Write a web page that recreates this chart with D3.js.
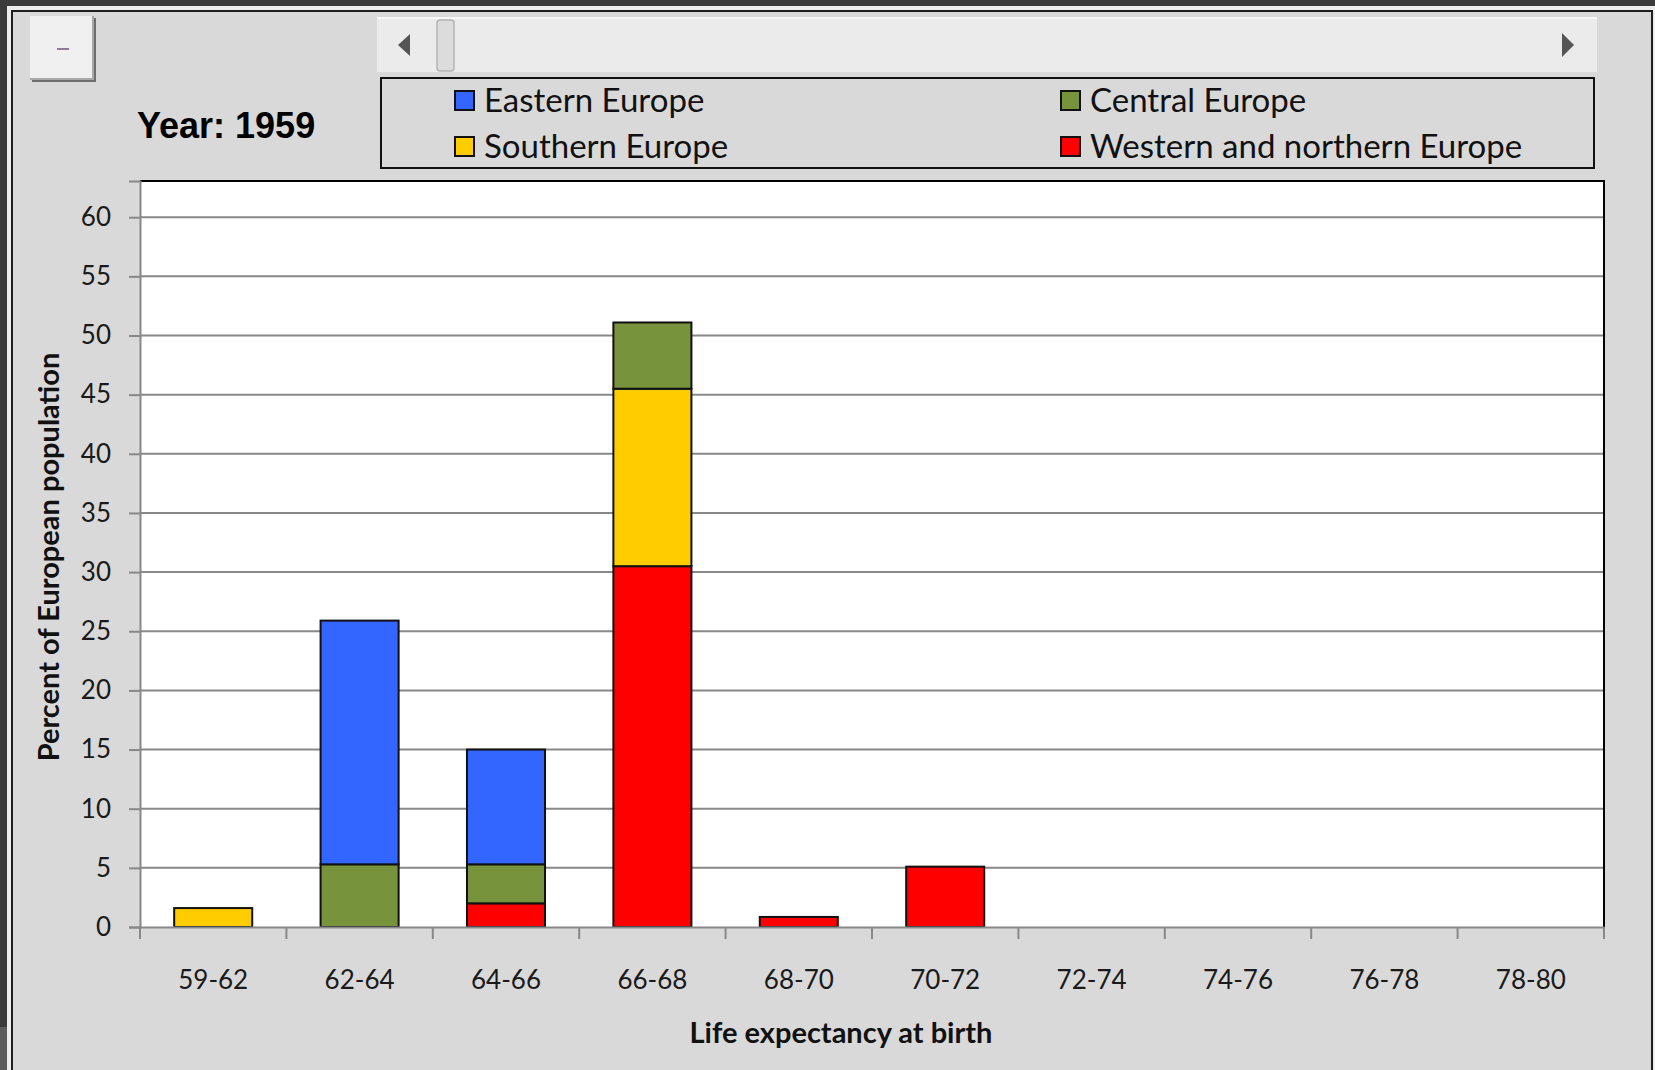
<html>
  <head>
    <script src="https://cdn.jsdelivr.net/npm/d3@7"></script>
    <style>
      body { margin: 0; background-color: #3a3a3a; }
      svg { display: block; }
    </style>
  </head>
  <body>
    <script>
      const categories = ["59-62", "62-64", "64-66", "66-68", "68-70", "70-72", "72-74", "74-76", "76-78", "78-80"];
      const seriesNames = ["Western and northern Europe", "Southern Europe", "Central Europe", "Eastern Europe"];
      const western  = [0,   0,    2.0, 30.5, 0.85, 5.1, 0, 0, 0, 0];
      const southern = [1.6, 0,    0,   15.0, 0,    0,   0, 0, 0, 0];
      const central  = [0,   5.3,  3.3, 5.6,  0,    0,   0, 0, 0, 0];
      const eastern  = [0,   20.6, 9.7, 0,    0,    0,   0, 0, 0, 0];
      const yTicks = [0, 5, 10, 15, 20, 25, 30, 35, 40, 45, 50, 55, 60];
      const yearLabel = "Year: 1959";
      const colors = {
        "Western and northern Europe": "#ff0000",
        "Southern Europe": "#ffcc00",
        "Central Europe": "#77933c",
        "Eastern Europe": "#3366ff"
      };
      // legend layout order (two columns, two rows)
      const legendOrder = ["Eastern Europe", "Southern Europe", "Central Europe", "Western and northern Europe"];

      const W = 1655, H = 1070;
      const plot = { left: 140, right: 1604, top: 181, bottom: 927 };

      const svg = d3.select("body").append("svg")
          .attr("width", W)
          .attr("height", H);

      // window frame
      svg.append("rect").attr("width", W).attr("height", H).attr("fill", "#3a3a3a");
      svg.append("rect").attr("x", 0).attr("y", 1027).attr("width", 7).attr("height", 43).attr("fill", "#5c5c5c");
      svg.append("rect").attr("x", 7).attr("y", 6).attr("width", W - 7).attr("height", H - 6).attr("fill", "#ededed");
      svg.append("rect")
          .attr("x", 12).attr("y", 11)
          .attr("width", 1640).attr("height", H)
          .attr("fill", "#d9d9d9")
          .attr("stroke", "#1e1e1e")
          .attr("stroke-width", 2);

      // small button top-left
      svg.append("rect").attr("x", 32).attr("y", 18).attr("width", 64).attr("height", 64).attr("fill", "#6e6e6e");
      svg.append("rect").attr("x", 30).attr("y", 16).attr("width", 64).attr("height", 64).attr("fill", "#a8a8a8");
      svg.append("rect").attr("x", 30).attr("y", 16).attr("width", 62).attr("height", 62).attr("fill", "#f0f0f0");
      svg.append("line")
          .attr("x1", 57).attr("x2", 69).attr("y1", 49).attr("y2", 49)
          .attr("stroke", "#8a7f95").attr("stroke-width", 2);

      // year label
      svg.append("text")
          .attr("x", 137).attr("y", 138)
          .style("font-family", "Liberation Sans, Arial, sans-serif")
          .style("font-weight", "bold")
          .style("font-size", "36px")
          .style("fill", "#000")
          .text(yearLabel);

      // scrollbar
      const sb = svg.append("g");
      sb.append("rect").attr("x", 377).attr("y", 17).attr("width", 1220).attr("height", 55).attr("fill", "#ebebeb");
      sb.append("rect").attr("x", 377).attr("y", 17).attr("width", 1220).attr("height", 2).attr("fill", "#f7f7f7");
      sb.append("path").attr("d", "M398,45 L410,34 L410,56 Z").attr("fill", "#555");
      sb.append("path").attr("d", "M1574,45 L1562,33 L1562,57 Z").attr("fill", "#555");
      sb.append("rect")
          .attr("x", 437).attr("y", 20).attr("width", 17).attr("height", 51).attr("rx", 3)
          .attr("fill", "#dcdcdc").attr("stroke", "#b4b4b4").attr("stroke-width", 1.5);

      // legend
      const lg = svg.append("g");
      lg.append("rect")
          .attr("x", 381).attr("y", 78).attr("width", 1213).attr("height", 90)
          .attr("fill", "none").attr("stroke", "#111").attr("stroke-width", 2);
      const colX = [455, 1061], rowY = [100, 146];
      legendOrder.forEach((name, i) => {
        const cx = colX[Math.floor(i / 2)], cy = rowY[i % 2];
        lg.append("rect")
            .attr("x", cx).attr("y", cy - 9).attr("width", 19).attr("height", 19)
            .attr("fill", colors[name]).attr("stroke", "#111").attr("stroke-width", 2);
        lg.append("text")
            .attr("x", cx + 29).attr("y", cy - 1)
            .attr("dominant-baseline", "central")
            .style("font-family", "Lato, sans-serif")
            .style("font-size", "33px")
            .style("fill", "#111")
            .text(name);
      });

      // scales
      const x = d3.scaleBand()
          .domain(categories)
          .range([plot.left, plot.right])
          .paddingInner(0.467)
          .paddingOuter(0.2335);
      const xEdge = d3.scaleLinear().domain([0, categories.length]).range([plot.left, plot.right]);
      const y = d3.scaleLinear().domain([0, 63.06]).range([plot.bottom, plot.top]);

      // plot area
      svg.append("rect")
          .attr("x", plot.left).attr("y", plot.top)
          .attr("width", plot.right - plot.left).attr("height", plot.bottom - plot.top)
          .attr("fill", "#fff");

      // gridlines
      svg.append("g")
          .selectAll("line")
          .data(yTicks.filter(d => d > 0))
          .join("line")
          .attr("x1", plot.left).attr("x2", plot.right)
          .attr("y1", d => y(d)).attr("y2", d => y(d))
          .attr("stroke", "#888888").attr("stroke-width", 2);

      // plot border (top/right black)
      svg.append("path")
          .attr("d", `M${plot.left},${plot.top} H${plot.right} V${plot.bottom}`)
          .attr("fill", "none").attr("stroke", "#000").attr("stroke-width", 2);

      // stacked bars
      const rows = categories.map((c, i) => ({
        cat: c,
        "Western and northern Europe": western[i],
        "Southern Europe": southern[i],
        "Central Europe": central[i],
        "Eastern Europe": eastern[i]
      }));
      const stacked = d3.stack().keys(seriesNames)(rows);

      svg.append("g")
          .selectAll("g")
          .data(stacked)
          .join("g")
          .attr("fill", d => colors[d.key])
          .selectAll("rect")
          .data(d => d.filter(p => p[1] - p[0] > 0))
          .join("rect")
          .attr("x", d => x(d.data.cat))
          .attr("width", x.bandwidth())
          .attr("y", d => y(d[1]))
          .attr("height", d => y(d[0]) - y(d[1]))
          .attr("stroke", "#111")
          .attr("stroke-width", 2);

      // y axis
      const yAxis = svg.append("g")
          .attr("transform", `translate(${plot.left},0)`)
          .call(d3.axisLeft(y).tickValues(yTicks).tickSize(11).tickPadding(18));
      yAxis.select(".domain").attr("stroke", "#888888").attr("stroke-width", 2);
      yAxis.selectAll(".tick line").attr("stroke", "#888888").attr("stroke-width", 2);
      yAxis.selectAll("text")
          .style("font-family", "Lato, sans-serif")
          .style("font-size", "26px")
          .style("fill", "#1a1a1a");

      // x axis
      const xAxis = svg.append("g")
          .attr("transform", `translate(0,${plot.bottom})`)
          .call(d3.axisBottom(x).tickSize(0).tickPadding(44));
      xAxis.select(".domain").attr("stroke", "#888888").attr("stroke-width", 2);
      xAxis.selectAll("text")
          .style("font-family", "Lato, sans-serif")
          .style("font-size", "26px")
          .style("fill", "#1a1a1a");
      svg.append("g")
          .selectAll("line")
          .data(d3.range(categories.length + 1))
          .join("line")
          .attr("x1", d => xEdge(d)).attr("x2", d => xEdge(d))
          .attr("y1", plot.bottom).attr("y2", plot.bottom + 12)
          .attr("stroke", "#888888").attr("stroke-width", 2);

      // axis titles
      svg.append("text")
          .attr("x", 841).attr("y", 1031)
          .attr("text-anchor", "middle")
          .attr("dominant-baseline", "central")
          .style("font-family", "Lato, sans-serif")
          .style("font-weight", "bold")
          .style("font-size", "29px")
          .style("fill", "#111")
          .text("Life expectancy at birth");

      svg.append("text")
          .attr("transform", "translate(47,557) rotate(-90)")
          .attr("text-anchor", "middle")
          .attr("dominant-baseline", "central")
          .style("font-family", "Lato, sans-serif")
          .style("font-weight", "bold")
          .style("font-size", "29px")
          .style("fill", "#111")
          .text("Percent of European population");
    </script>
  </body>
</html>
